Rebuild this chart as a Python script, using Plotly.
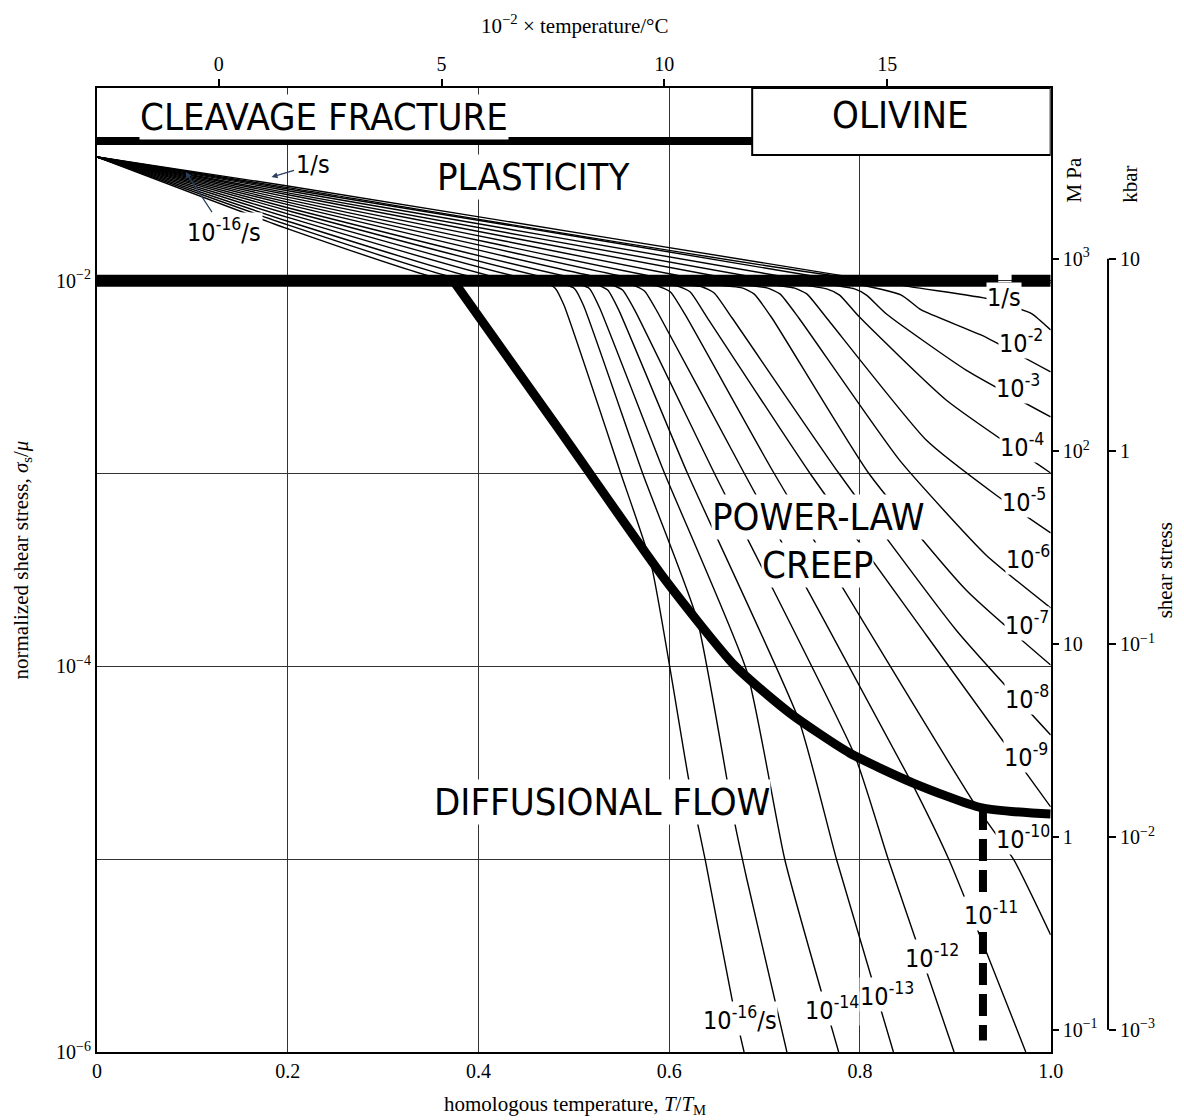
import plotly.graph_objects as go

# ---------------------------------------------------------------------------
# Deformation-mechanism map for olivine: normalized shear stress vs T/T_M
# ---------------------------------------------------------------------------

T_MELT_K = 2140.0          # melting temperature used for the upper scale
LOG_MU_MPA = 4.885         # log10 of the shear modulus in MPa

# bottom axis (homologous temperature)
T_TICKS = [0, 0.2, 0.4, 0.6, 0.8, 1.0]
T_TICK_TEXT = ["0", "0.2", "0.4", "0.6", "0.8", "1.0"]

# top axis (temperature in degrees C, labelled in hundreds)
CELSIUS_TICKS = [0, 500, 1000, 1500]
CELSIUS_TEXT = ["0", "5", "10", "15"]

# left axis (normalized shear stress)
STRESS_TICKS = [1e-6, 1e-5, 1e-4, 1e-3, 1e-2]
STRESS_TEXT = ["10<sup>−6</sup>", "", "10<sup>−4</sup>", "", "10<sup>−2</sup>"]

# right axes (absolute shear stress)
MPA_TICKS = [0.1, 1, 10, 100, 1000]
MPA_TEXT = ["10<sup>−1</sup>", "1", "10", "10<sup>2</sup>", "10<sup>3</sup>"]
KBAR_TICKS = [0.001, 0.01, 0.1, 1, 10]
KBAR_TEXT = ["10<sup>−3</sup>", "10<sup>−2</sup>", "10<sup>−1</sup>", "1", "10"]

# field boundaries (log10 sigma_s/mu)
CLEAVAGE_LOGS = -1.275
CLEAVAGE_T = [0.0, 0.687]
YIELD_LOGS = -2.0
YIELD_T_A = [0.0, 0.945]
YIELD_T_B = [0.959, 1.0]

# power-law creep / diffusional flow boundary
PL_DIFF_T = [0.3737, 0.4833, 0.5960, 0.6691, 0.7265, 0.7891, 0.8559, 0.9280, 1.0]
PL_DIFF_LOGS = [-2.0, -2.763, -3.552, -3.998, -4.242, -4.449, -4.605, -4.734, -4.766]

# dashed boundary below the kink
DASH_T = [0.929, 0.929]
DASH_LOGS = [-4.734, -5.94]

# olivine box (T range and log stress range)
OLIVINE_T = [0.687, 1.0]
OLIVINE_LOGS = [-1.348, -1.0]

# constant strain-rate contours, labelled by -log10(strain rate / s^-1)
rate0_T = [0, 0.2, 0.852, 0.9353, 0.9551, 0.98, 1.0]
rate0_logs = [-1.358, -1.508, -2.03, -2.094, -2.126, -2.17, -2.255]

rate1_T = [0, 0.2, 0.815, 1.0]
rate1_logs = [-1.358, -1.517, -2.0, -2.01]

rate2_T = [0, 0.2, 0.780, 0.8434, 0.8643, 0.9269, 1.0]
rate2_logs = [-1.358, -1.524, -2.0, -2.074, -2.151, -2.281, -2.473]

rate3_T = [0, 0.2, 0.745, 0.7944, 0.8069, 0.8278, 0.9113, 1.0]
rate3_logs = [-1.358, -1.533, -2.0, -2.042, -2.074, -2.172, -2.463, -2.706]

rate4_T = [0, 0.2, 0.710, 0.7651, 0.7787, 0.7985, 0.8904, 1.0]
rate4_logs = [-1.358, -1.544, -2.0, -2.042, -2.074, -2.183, -2.618, -2.997]

rate5_T = [0, 0.2, 0.675, 0.7307, 0.7443, 0.7651, 0.8695, 0.9426, 1.0]
rate5_logs = [-1.358, -1.554, -2.0, -2.037, -2.068, -2.193, -2.826, -3.111, -3.308]

rate6_T = [0, 0.2, 0.640, 0.7025, 0.7161, 0.7359, 0.8413, 0.9322, 1.0]
rate6_logs = [-1.358, -1.566, -2.0, -2.037, -2.068, -2.193, -2.929, -3.422, -3.697]

rate7_T = [0, 0.2, 0.607, 0.6764, 0.6889, 0.7077, 0.8090, 0.9113, 1.0]
rate7_logs = [-1.358, -1.579, -2.0, -2.037, -2.068, -2.193, -2.997, -3.604, -3.993]

rate8_T = [0, 0.2, 0.575, 0.6347, 0.6472, 0.6660, 0.7777, 0.9008, 1.0]
rate8_logs = [-1.358, -1.592, -2.0, -2.032, -2.063, -2.193, -2.997, -3.811, -4.356]

rate9_T = [0, 0.2, 0.545, 0.6086, 0.6221, 0.6388, 0.7474, 0.8695, 1.0]
rate9_logs = [-1.358, -1.605, -2.0, -2.027, -2.058, -2.183, -2.997, -3.837, -4.729]

rate10_T = [0, 0.2, 0.515, 0.5877, 0.6013, 0.6169, 0.7098, 0.9217, 0.9614, 1.0]
rate10_logs = [-1.358, -1.621, -2.0, -2.027, -2.058, -2.177, -2.997, -4.724, -5.004, -5.393]

rate11_T = [0, 0.2, 0.487, 0.5616, 0.5741, 0.5877, 0.6785, 0.8539, 0.8935, 0.9739]
rate11_logs = [-1.358, -1.636, -2.0, -2.022, -2.053, -2.162, -2.997, -4.600, -5.004, -6.0]

rate12_T = [0, 0.2, 0.460, 0.5397, 0.5511, 0.5637, 0.6472, 0.7944, 0.8299, 0.8987]
rate12_logs = [-1.358, -1.653, -2.0, -2.022, -2.048, -2.151, -2.997, -4.460, -5.004, -6.0]

rate13_T = [0, 0.2, 0.435, 0.5251, 0.5355, 0.5470, 0.6190, 0.7359, 0.7756, 0.8351]
rate13_logs = [-1.358, -1.671, -2.0, -2.022, -2.048, -2.151, -2.997, -4.278, -5.004, -6.0]

rate14_T = [0, 0.2, 0.410, 0.5073, 0.5167, 0.5271, 0.5950, 0.6816, 0.7213, 0.7777]
rate14_logs = [-1.358, -1.691, -2.0, -2.022, -2.042, -2.141, -2.997, -4.029, -5.004, -6.0]

rate15_T = [0, 0.2, 0.388, 0.4916, 0.5010, 0.5104, 0.5720, 0.6294, 0.6681, 0.6816, 0.7234]
rate15_logs = [-1.358, -1.710, -2.0, -2.022, -2.042, -2.131, -2.997, -3.759, -4.797, -5.108, -6.0]

rate16_T = [0, 0.2, 0.368, 0.4708, 0.4802, 0.4896, 0.5491, 0.5814, 0.6211, 0.6378, 0.6660, 0.6785]
rate16_logs = [-1.358, -1.730, -2.0, -2.017, -2.037, -2.126, -2.997, -3.479, -4.605, -5.004, -5.730, -6.0]

CONTOURS = [
    (rate0_T, rate0_logs), (rate1_T, rate1_logs), (rate2_T, rate2_logs),
    (rate3_T, rate3_logs), (rate4_T, rate4_logs), (rate5_T, rate5_logs),
    (rate6_T, rate6_logs), (rate7_T, rate7_logs), (rate8_T, rate8_logs),
    (rate9_T, rate9_logs), (rate10_T, rate10_logs), (rate11_T, rate11_logs),
    (rate12_T, rate12_logs), (rate13_T, rate13_logs), (rate14_T, rate14_logs),
    (rate15_T, rate15_logs), (rate16_T, rate16_logs),
]

# contour labels on the right-hand side: (text, T/T_M, log10 stress)
RATE_LABELS = [
    ("1/s", 0.951, -2.084),
    ("10<sup>-2</sup>", 0.969, -2.317),
    ("10<sup>-3</sup>", 0.966, -2.549),
    ("10<sup>-4</sup>", 0.970, -2.852),
    ("10<sup>-5</sup>", 0.972, -3.137),
    ("10<sup>-6</sup>", 0.976, -3.433),
    ("10<sup>-7</sup>", 0.975, -3.780),
    ("10<sup>-8</sup>", 0.975, -4.159),
    ("10<sup>-9</sup>", 0.974, -4.460),
    ("10<sup>-10</sup>", 0.971, -4.890),
    ("10<sup>-11</sup>", 0.937, -5.282),
    ("10<sup>-12</sup>", 0.876, -5.507),
    ("10<sup>-13</sup>", 0.828, -5.704),
    ("10<sup>-14</sup>", 0.771, -5.772),
    ("10<sup>-16</sup>/s", 0.674, -5.824),
]

# field names: (text, T/T_M, log10 stress)
FIELD_LABELS = [
    ("CLEAVAGE FRACTURE", 0.238, -1.150),
    ("OLIVINE", 0.843, -1.140),
    ("PLASTICITY", 0.457, -1.462),
    ("POWER-LAW", 0.757, -3.225),
    ("CREEP", 0.755, -3.474),
    ("DIFFUSIONAL FLOW", 0.530, -4.703),
]

SERIF = "Liberation Serif, DejaVu Serif, serif"
NARROW = "Liberation Sans Narrow, DejaVu Sans Condensed, Arial Narrow, sans-serif"


def to_stress(logs):
    return [10 ** v for v in logs]


fig = go.Figure()

# strain-rate contours
for t_vals, logs in CONTOURS:
    fig.add_trace(go.Scatter(
        x=t_vals, y=to_stress(logs), mode="lines",
        line=dict(color="black", width=1.4, shape="spline", smoothing=0.5),
        hoverinfo="skip", showlegend=False))

# field boundaries
fig.add_trace(go.Scatter(x=CLEAVAGE_T, y=to_stress([CLEAVAGE_LOGS] * 2), mode="lines",
                         line=dict(color="black", width=8), hoverinfo="skip", showlegend=False))
for seg in (YIELD_T_A, YIELD_T_B):
    fig.add_trace(go.Scatter(x=seg, y=to_stress([YIELD_LOGS] * 2), mode="lines",
                             line=dict(color="black", width=12), hoverinfo="skip", showlegend=False))
fig.add_trace(go.Scatter(x=PL_DIFF_T, y=to_stress(PL_DIFF_LOGS), mode="lines",
                         line=dict(color="black", width=9, shape="spline", smoothing=0.6),
                         hoverinfo="skip", showlegend=False))
fig.add_trace(go.Scatter(x=DASH_T, y=to_stress(DASH_LOGS), mode="lines",
                         line=dict(color="black", width=8, dash="22px,9px"),
                         hoverinfo="skip", showlegend=False))

# placeholders so the secondary axes are drawn
fig.add_trace(go.Scatter(x=[0.5], y=[1e-3], xaxis="x2", yaxis="y", mode="markers",
                         marker=dict(opacity=0), hoverinfo="skip", showlegend=False))
fig.add_trace(go.Scatter(x=[0.5], y=[10.0], xaxis="x", yaxis="y2", mode="markers",
                         marker=dict(opacity=0), hoverinfo="skip", showlegend=False))
fig.add_trace(go.Scatter(x=[0.5], y=[0.1], xaxis="x", yaxis="y3", mode="markers",
                         marker=dict(opacity=0), hoverinfo="skip", showlegend=False))

X_DOMAIN_END = 0.898
KBAR_POS = 0.952

annotations = []
for text, tx, ly in RATE_LABELS:
    annotations.append(dict(x=tx, y=ly, xref="x", yref="y", text=text, showarrow=False,
                            font=dict(family=NARROW, size=25, color="black"),
                            bgcolor="white", borderpad=0))
for text, tx, ly in FIELD_LABELS:
    annotations.append(dict(x=tx, y=ly, xref="x", yref="y", text=text, showarrow=False,
                            font=dict(family=NARROW, size=38, color="black"),
                            bgcolor="white", borderpad=0))

# fan labels with arrows
annotations.append(dict(x=0.183, y=-1.462, ax=0.226, ay=-1.399, axref="x", ayref="y",
                        xref="x", yref="y", text="1/s", showarrow=True, arrowhead=2,
                        arrowsize=1, arrowwidth=1.2, standoff=0,
                        font=dict(family=NARROW, size=25, color="black"), bgcolor="white"))
annotations.append(dict(x=0.093, y=-1.436, ax=0.133, ay=-1.737, axref="x", ayref="y",
                        xref="x", yref="y", text="10<sup>-16</sup>/s", showarrow=True,
                        arrowhead=2, arrowsize=1, arrowwidth=1.2, standoff=0,
                        font=dict(family=NARROW, size=25, color="black"), bgcolor="white"))

# axis titles
title_font = dict(family=SERIF, size=21, color="black")
annotations += [
    dict(x=0.450, y=1.066, xref="paper", yref="paper", showarrow=False,
         xanchor="center", yanchor="middle",
         text="10<sup>−2</sup> × temperature/°C", font=title_font),
    dict(x=0.450, y=-0.055, xref="paper", yref="paper", showarrow=False,
         xanchor="center", yanchor="middle",
         text="homologous temperature, <i>T</i>/<i>T</i><sub>M</sub>", font=title_font),
    dict(x=-0.0705, y=0.51, xref="paper", yref="paper", showarrow=False, textangle=-90,
         xanchor="center", yanchor="middle",
         text="normalized shear stress, <i>σ</i><sub>s</sub>/<i>μ</i>", font=title_font),
    dict(x=0.920, y=0.905, xref="paper", yref="paper", showarrow=False, textangle=-90,
         xanchor="center", yanchor="middle", text="M Pa", font=title_font),
    dict(x=0.973, y=0.900, xref="paper", yref="paper", showarrow=False, textangle=-90,
         xanchor="center", yanchor="middle", text="kbar", font=title_font),
    dict(x=1.006, y=0.500, xref="paper", yref="paper", showarrow=False, textangle=-90,
         xanchor="center", yanchor="middle", text="shear stress", font=title_font),
]

shapes = [
    dict(type="rect", xref="x", yref="y", x0=OLIVINE_T[0], x1=OLIVINE_T[1],
         y0=10 ** OLIVINE_LOGS[0], y1=10 ** OLIVINE_LOGS[1],
         fillcolor="white", line=dict(color="black", width=2), layer="above"),
    dict(type="line", xref="paper", yref="y3", x0=KBAR_POS, x1=KBAR_POS,
         y0=KBAR_TICKS[0], y1=KBAR_TICKS[-1], line=dict(color="black", width=2)),
]

axis_font = dict(family=SERIF, size=20, color="black")
top_tickvals = [(c + 273.15) / T_MELT_K for c in CELSIUS_TICKS]

fig.update_layout(
    width=1184, height=1120,
    margin=dict(l=97, r=20, t=88, b=68),
    paper_bgcolor="white", plot_bgcolor="white",
    showlegend=False,
    xaxis=dict(domain=[0, X_DOMAIN_END], range=[0, 1], tickvals=T_TICKS, ticktext=T_TICK_TEXT,
               showgrid=True, gridcolor="#333", gridwidth=1, zeroline=False,
               showline=True, linecolor="black", linewidth=2, mirror=True,
               ticks="", tickfont=axis_font, anchor="y"),
    xaxis2=dict(domain=[0, X_DOMAIN_END], range=[0, 1], overlaying="x", side="top", anchor="y",
                tickvals=top_tickvals, ticktext=CELSIUS_TEXT, ticks="outside", ticklen=8,
                tickcolor="black", tickwidth=1.5, showgrid=False, showline=False,
                zeroline=False, tickfont=axis_font),
    yaxis=dict(type="log", range=[-6, -1], tickvals=STRESS_TICKS, ticktext=STRESS_TEXT,
               showgrid=True, gridcolor="#333", gridwidth=1, zeroline=False,
               showline=True, linecolor="black", linewidth=2, mirror=True,
               ticks="", tickfont=axis_font, anchor="x"),
    yaxis2=dict(type="log", range=[-6 + LOG_MU_MPA, -1 + LOG_MU_MPA], overlaying="y",
                side="right", anchor="x", tickvals=MPA_TICKS, ticktext=MPA_TEXT,
                ticks="outside", ticklen=7, tickcolor="black", tickwidth=1.5,
                showgrid=False, showline=False, zeroline=False, tickfont=axis_font),
    yaxis3=dict(type="log", range=[-6 + LOG_MU_MPA - 2, -1 + LOG_MU_MPA - 2], overlaying="y",
                side="right", anchor="free", position=KBAR_POS, tickvals=KBAR_TICKS,
                ticktext=KBAR_TEXT, ticks="outside", ticklen=7, tickcolor="black",
                tickwidth=1.5, showgrid=False, showline=False, zeroline=False,
                tickfont=axis_font),
    annotations=annotations,
    shapes=shapes,
)

fig.write_html("out.html")
